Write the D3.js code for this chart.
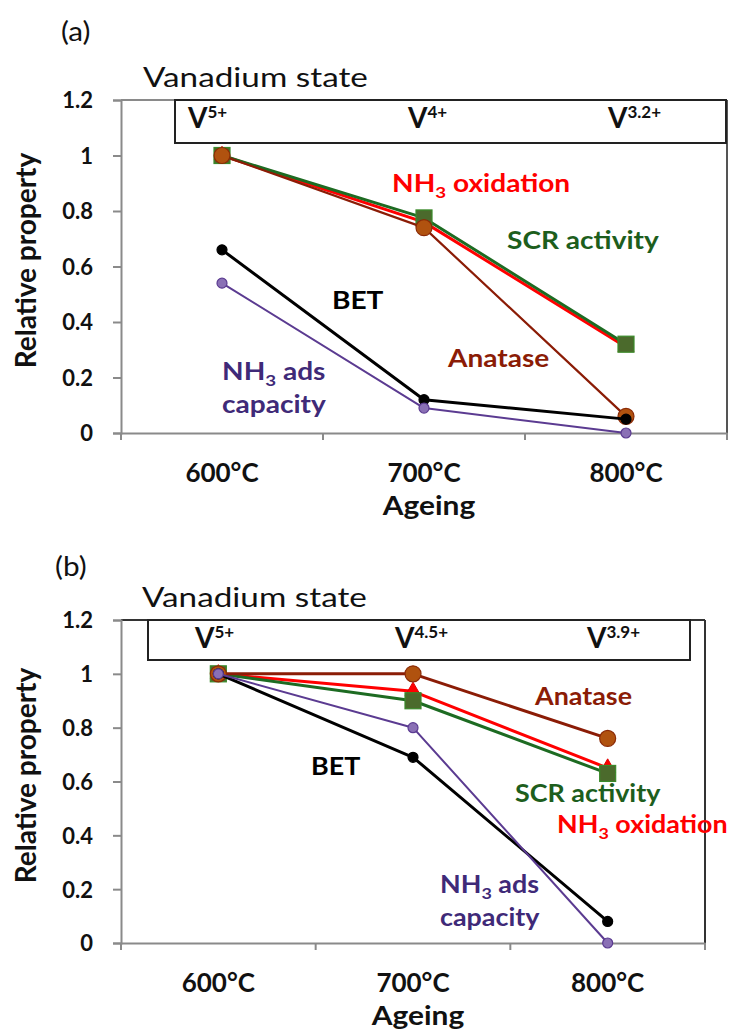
<!DOCTYPE html>
<html><head><meta charset="utf-8">
<script src="https://cdn.jsdelivr.net/npm/d3@7"></script>
<style>body{margin:0;background:#fff}svg{display:block}text{font-family:Lato,"Open Sans",sans-serif}</style>
</head><body><svg id="c" width="730" height="1030"></svg>
<script>
const categories = ["600°C", "700°C", "800°C"];
const yTicks = [0, 0.2, 0.4, 0.6, 0.8, 1, 1.2];
const seriesNames = ["NH3 oxidation", "SCR activity", "Anatase", "BET", "NH3 ads capacity"];
// panel (a)
const aNH3ox = [1, 0.76, 0.31];
const aSCR = [1, 0.775, 0.32];
const aAnatase = [1, 0.74, 0.06];
const aBET = [0.66, 0.12, 0.05];
const aNH3ads = [0.54, 0.09, 0.0];
const aStates = ["5+", "4+", "3.2+"];
// panel (b)
const bNH3ox = [1, 0.935, 0.65];
const bSCR = [1, 0.9, 0.63];
const bAnatase = [1, 1.0, 0.76];
const bBET = [1, 0.69, 0.08];
const bNH3ads = [1, 0.8, 0.0];
const bStates = ["5+", "4.5+", "3.9+"];

const svg = d3.select("#c");
const styles = {
  "NH3 oxidation": {line: "#ff0000", fill: "#ff0000", stroke: "#e00000", shape: "tri", w: 3},
  "SCR activity": {line: "#1d6b22", fill: "#4b6a2c", stroke: "#3a8a2a", shape: "sq", w: 3},
  "Anatase": {line: "#8b1c06", fill: "#b0520f", stroke: "#8b2a06", shape: "bigc", w: 3},
  "BET": {line: "#000000", fill: "#000000", stroke: "#000", shape: "c", w: 3},
  "NH3 ads capacity": {line: "#5b3b91", fill: "#8a70b5", stroke: "#5b3b91", shape: "c", w: 2}
};

function stext(g, x, y, sx, anchor) {
  return g.append("text").attr("transform", `translate(${x},${y}) scale(${sx},1)`)
    .attr("text-anchor", anchor || "start");
}

function drawPanel(cfg) {
  const g = svg.append("g");
  const x = d3.scaleBand().domain(categories).range([cfg.x0, cfg.x1]).padding(0);
  const y = d3.scaleLinear().domain([0, 1.2]).range([cfg.yb, cfg.yt]);
  // plot border top & right
  g.append("path").attr("d", `M${cfg.x0},${cfg.yt}H${cfg.x1}`)
    .attr("fill", "none").attr("stroke", cfg.topCol).attr("stroke-width", 2);
  g.append("path").attr("d", `M${cfg.x1},${cfg.yt}V${cfg.yb}`)
    .attr("fill", "none").attr("stroke", cfg.rightCol).attr("stroke-width", 2);
  // y axis
  const ya = g.append("g").attr("transform", `translate(${cfg.x0},0)`)
    .call(d3.axisLeft(y).tickValues(yTicks).tickSize(8).tickPadding(20).tickFormat(d3.format("~g")));
  ya.select(".domain").attr("stroke", "#8a8a8a").attr("stroke-width", 2);
  ya.selectAll(".tick line").attr("stroke", "#8a8a8a").attr("stroke-width", 2);
  ya.selectAll(".tick text").attr("font-size", 22).attr("font-weight", 700).attr("fill", "#111")
    .attr("font-family", "Lato").attr("dy", "0.36em");
  // x axis
  const xa = g.append("g").attr("transform", `translate(0,${cfg.yb})`)
    .call(d3.axisBottom(x).tickSize(0).tickPadding(31));
  xa.select(".domain").attr("stroke", "#8a8a8a").attr("stroke-width", 2);
  xa.selectAll(".tick text").attr("font-size", 26).attr("font-weight", 700).attr("fill", "#111")
    .attr("font-family", "Lato");
  const bounds = [cfg.x0].concat(categories.map(c => x(c) + x.bandwidth()));
  g.selectAll(".xt").data(bounds).join("line").attr("x1", d => d).attr("x2", d => d)
    .attr("y1", cfg.yb).attr("y2", cfg.yb + 7).attr("stroke", "#8a8a8a").attr("stroke-width", 2);
  // state box
  g.append("rect").attr("x", cfg.box[0]).attr("y", cfg.yt).attr("width", cfg.box[1] - cfg.box[0])
    .attr("height", cfg.box[2]).attr("fill", "#fff").attr("stroke", "#222").attr("stroke-width", 2);
  cfg.states.forEach((s, i) => {
    const t = g.append("text").attr("x", cfg.stateX[i]).attr("y", cfg.yt + 28)
      .attr("font-weight", 700).attr("fill", "#111").attr("font-size", 28);
    t.append("tspan").text("V");
    t.append("tspan").text(s).attr("font-size", 17).attr("dy", -10);
  });
  stext(g, cfg.vsX, cfg.yt - 13, 1.28).attr("font-size", 26).attr("fill", "#111").text("Vanadium state");
  stext(g, cfg.lblX, cfg.lblY, 1.1).attr("font-size", 27).attr("fill", "#111").text(cfg.label);
  // titles
  g.append("text").attr("transform", `translate(${cfg.ytX},${(cfg.yt + cfg.yb) / 2 - 6}) rotate(-90)`)
    .attr("text-anchor", "middle").attr("font-size", 28).attr("font-weight", 700).attr("fill", "#111")
    .text("Relative property");
  stext(g, (cfg.x0 + cfg.x1) / 2 + 5, cfg.yb + 82, 1.15, "middle")
    .attr("font-size", 26).attr("font-weight", 700).attr("fill", "#111").text("Ageing");
  // series
  const cx = c => x(c) + x.bandwidth() / 2;
  cfg.series.forEach(([name, vals]) => {
    const st = styles[name];
    const pts = vals.map((v, i) => [cx(categories[i]), y(v)]);
    g.append("path").attr("d", d3.line()(pts)).attr("fill", "none").attr("stroke", st.line)
      .attr("stroke-width", name === "Anatase" && cfg.thinAn ? 2.2 : st.w).attr("stroke-linejoin", "round");
    pts.forEach(p => {
      if (st.shape === "sq") g.append("rect").attr("x", p[0] - 8).attr("y", p[1] - 8).attr("width", 16).attr("height", 16)
        .attr("fill", st.fill).attr("stroke", st.stroke).attr("stroke-width", 1.2);
      else if (st.shape === "tri") g.append("path").attr("d", d3.symbol(d3.symbolTriangle, 110)()).attr("transform", `translate(${p[0]},${p[1]})`)
        .attr("fill", st.fill).attr("stroke", st.stroke);
      else g.append("circle").attr("cx", p[0]).attr("cy", p[1]).attr("r", st.shape === "bigc" ? 8 : 5)
        .attr("fill", st.fill).attr("stroke", st.stroke).attr("stroke-width", 1.2);
    });
  });
  // annotations
  cfg.notes.forEach(n => {
    const st = styles[n.s];
    n.lines.forEach((ln, k) => {
      const t = stext(g, n.x, n.y + k * 33, cfg.noteSx).attr("font-size", 24)
        .attr("font-weight", 700).attr("fill", n.col || st.line);
      const parts = ln.split("_3");
      t.append("tspan").text(parts[0]);
      if (parts.length > 1) {
        t.append("tspan").text("3").attr("font-size", 16).attr("dy", 6);
        t.append("tspan").text(parts[1]).attr("dy", -6);
      }
    });
  });
}

drawPanel({
  x0: 121, x1: 727, yt: 100, yb: 433, box: [175, 726, 43], topCol: "#8a8a8a", rightCol: "#555",
  states: aStates, stateX: [188, 408, 608], vsX: 143, lblX: 61, lblY: 41, label: "(a)", ytX: 36,
  thinAn: true, noteSx: 1.17,
  series: [["NH3 oxidation", aNH3ox], ["SCR activity", aSCR], ["Anatase", aAnatase], ["BET", aBET], ["NH3 ads capacity", aNH3ads]],
  notes: [
    {s: "NH3 oxidation", x: 392, y: 192, lines: ["NH_3 oxidation"], col: "#ff0000"},
    {s: "SCR activity", x: 507, y: 249, lines: ["SCR activity"], col: "#1d5e1d"},
    {s: "BET", x: 332, y: 309, lines: ["BET"]},
    {s: "Anatase", x: 448, y: 367, lines: ["Anatase"]},
    {s: "NH3 ads capacity", x: 222, y: 380, lines: ["NH_3 ads", "capacity"], col: "#3f2a78"}
  ]
});
drawPanel({
  x0: 121, x1: 705, yt: 620, yb: 943, box: [148, 690, 40], topCol: "#333", rightCol: "#333",
  states: bStates, stateX: [195, 395, 587], vsX: 142, lblX: 55, lblY: 576, label: "(b)", ytX: 36,
  thinAn: false, noteSx: 1.12,
  series: [["NH3 oxidation", bNH3ox], ["SCR activity", bSCR], ["Anatase", bAnatase], ["BET", bBET], ["NH3 ads capacity", bNH3ads]],
  notes: [
    {s: "Anatase", x: 535, y: 705, lines: ["Anatase"]},
    {s: "BET", x: 311, y: 775, lines: ["BET"]},
    {s: "SCR activity", x: 515, y: 802, lines: ["SCR activity"], col: "#1d5e1d"},
    {s: "NH3 oxidation", x: 557, y: 833, lines: ["NH_3 oxidation"], col: "#ff0000"},
    {s: "NH3 ads capacity", x: 440, y: 893, lines: ["NH_3 ads", "capacity"], col: "#3f2a78"}
  ]
});
</script></body></html>
